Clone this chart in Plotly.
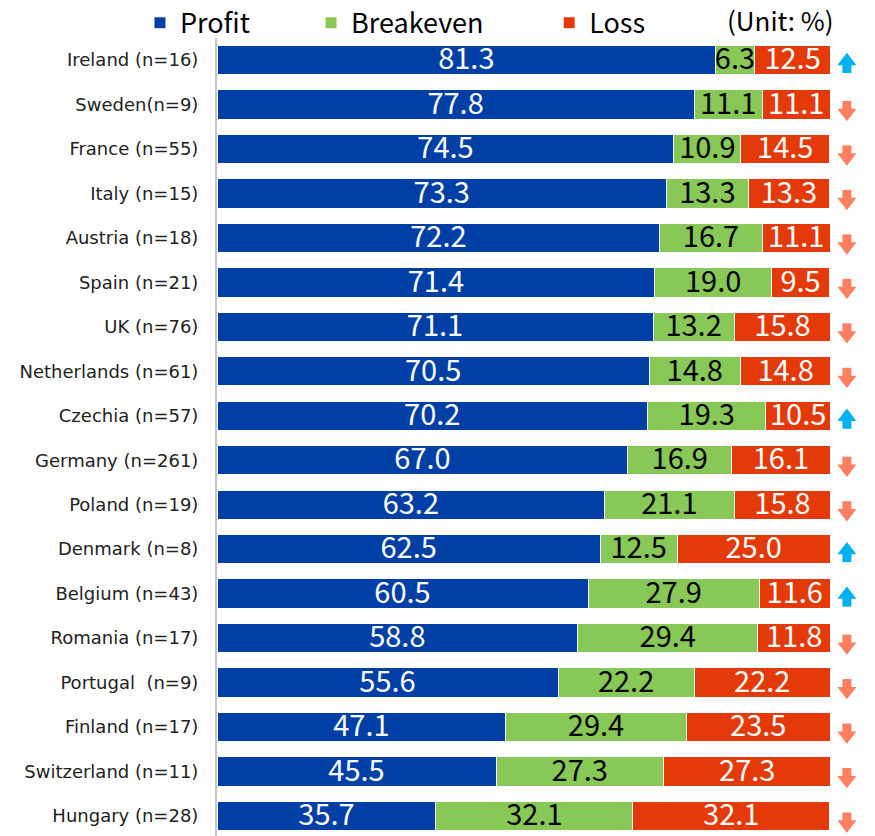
import plotly.graph_objects as go

countries = ["Ireland (n=16)", "Sweden(n=9)", "France (n=55)", "Italy (n=15)", "Austria (n=18)",
             "Spain (n=21)", "UK (n=76)", "Netherlands (n=61)", "Czechia (n=57)", "Germany (n=261)",
             "Poland (n=19)", "Denmark (n=8)", "Belgium (n=43)", "Romania (n=17)",
             "Portugal\u00a0\u00a0(n=9)", "Finland (n=17)", "Switzerland (n=11)", "Hungary (n=28)"]
profit = [81.3, 77.8, 74.5, 73.3, 72.2, 71.4, 71.1, 70.5, 70.2, 67.0, 63.2, 62.5, 60.5, 58.8, 55.6, 47.1, 45.5, 35.7]
breakeven = [6.3, 11.1, 10.9, 13.3, 16.7, 19.0, 13.2, 14.8, 19.3, 16.9, 21.1, 12.5, 27.9, 29.4, 22.2, 29.4, 27.3, 32.1]
loss = [12.5, 11.1, 14.5, 13.3, 11.1, 9.5, 15.8, 14.8, 10.5, 16.1, 15.8, 25.0, 11.6, 11.8, 22.2, 23.5, 27.3, 32.1]
trend = ["up", "down", "down", "down", "down", "down", "down", "down", "up", "down",
         "down", "up", "up", "down", "down", "down", "down", "down"]

BLUE = "#003FA6"
GREEN = "#88C856"
RED = "#E43A0A"
UP = "#00B0F0"
DOWN = "#FF7F5F"
FONT = "Noto Sans CJK JP"

Y_RANGE = [17.45, -0.495]
PX = 1 / 44.47          # one pixel in category units
idx = list(range(len(countries)))

fig = go.Figure()
series = [("Profit", profit, BLUE, "white", "legend"),
          ("Breakeven", breakeven, GREEN, "black", "legend2"),
          ("Loss", loss, RED, "white", "legend3")]
base = [0.0] * len(countries)
for name, vals, col, tcol, lg in series:
    fig.add_trace(go.Bar(
        name=name, y=countries, x=vals, orientation="h",
        marker=dict(color=col, line=dict(color="white", width=1)),
        width=0.66, textposition="none",
        legend=lg, hoverinfo="skip",
    ))
    mids = [b + v / 2 for b, v in zip(base, vals)]
    fig.add_trace(go.Scatter(
        x=mids, y=[i + 2 * PX for i in idx], yaxis="y2", mode="text",
        text=[f"{v:.1f}" for v in vals], textposition="middle center",
        textfont=dict(color=tcol, size=29, family=FONT),
        showlegend=False, hoverinfo="skip", cliponaxis=False,
    ))
    base = [b + v for b, v in zip(base, vals)]

# trend arrows: head (triangle) + stem (square)
AX = 102.7
up_i = [i for i, t in enumerate(trend) if t == "up"]
dn_i = [i for i, t in enumerate(trend) if t == "down"]
arrow_parts = [
    (up_i, 1.0, "triangle-up", 16.5, UP),
    (up_i, 8.5, "square", 9, UP),
    (dn_i, 8.5, "triangle-down", 16.5, DOWN),
    (dn_i, 1.0, "square", 9, DOWN),
]
for rows, off, sym, size, col in arrow_parts:
    fig.add_trace(go.Scatter(
        x=[AX] * len(rows), y=[i + off * PX for i in rows], yaxis="y2", mode="markers",
        marker=dict(symbol=sym, size=size, color=col, line=dict(width=0)),
        cliponaxis=False, showlegend=False, hoverinfo="skip",
    ))

fig.add_annotation(text="(Unit: %)", xref="paper", yref="paper", x=0.8746, y=1.0226,
                   xanchor="center", yanchor="middle", showarrow=False,
                   font=dict(size=26, family=FONT, color="black"))

lg_common = dict(orientation="h", yanchor="middle", y=1.0185, xanchor="left",
                 font=dict(size=27, family=FONT, color="black"), bgcolor="rgba(0,0,0,0)")
fig.update_layout(
    barmode="stack",
    width=867, height=828,
    margin=dict(l=209, r=14, t=30, b=0, autoexpand=False),
    plot_bgcolor="white", paper_bgcolor="white",
    legend=dict(x=-0.1196, **lg_common),
    legend2=dict(x=0.146, **lg_common),
    legend3=dict(x=0.5158, **lg_common),
    xaxis=dict(range=[0, 105], visible=False),
    yaxis=dict(range=Y_RANGE, showline=True, linecolor="#c8c8c8", linewidth=2,
               showgrid=False, ticks="", ticklabelstandoff=13,
               tickfont=dict(size=18, family="DejaVu Sans", color="#222")),
    yaxis2=dict(range=Y_RANGE, overlaying="y", visible=False),
)

fig.write_html("out.html")
